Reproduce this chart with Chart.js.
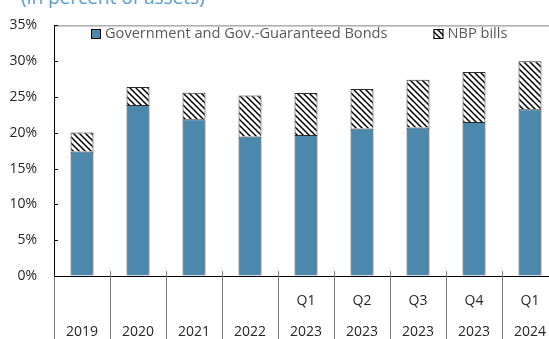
<!DOCTYPE html>
<html>
<head>
<meta charset="utf-8">
<script src="https://cdn.jsdelivr.net/npm/chart.js@4.4.1/dist/chart.umd.min.js"></script>
<style>
  html, body { margin: 0; padding: 0; background: #fff; overflow: hidden; width: 549px; height: 339px; }
  #title { position: absolute; left: 21px; top: -12px; font: 19px "Open Sans", sans-serif; line-height: 19px; color: #5b9bd5; white-space: nowrap; }
  #wrap { position: absolute; left: 0; top: 0; width: 558px; height: 339px; }
</style>
</head>
<body>
<div id="title">(in percent of assets)</div>
<div id="wrap"><canvas id="chart" width="558" height="339"></canvas></div>
<script>
// ======= Data =======
const periods = [["", "2019"], ["", "2020"], ["", "2021"], ["", "2022"], ["Q1", "2023"], ["Q2", "2023"], ["Q3", "2023"], ["Q4", "2023"], ["Q1", "2024"]];
const bonds = [17.4, 23.9, 21.9, 19.5, 19.7, 20.6, 20.75, 21.5, 23.3];
const nbpBills = [2.65, 2.5, 3.7, 5.7, 5.85, 5.5, 6.65, 7.0, 6.7];
const yTicks = [0, 5, 10, 15, 20, 25, 30, 35];

// ======= Hatch pattern =======
function makeHatch() {
  const c = document.createElement("canvas");
  c.width = 6; c.height = 6;
  const g = c.getContext("2d");
  g.fillStyle = "#fff";
  g.fillRect(0, 0, 6, 6);
  g.strokeStyle = "#000";
  g.lineWidth = 1.5;
  g.beginPath();
  g.moveTo(-1, -1); g.lineTo(7, 7);
  g.moveTo(-4, 2); g.lineTo(4, 10);
  g.moveTo(2, -4); g.lineTo(10, 4);
  g.stroke();
  return g.createPattern(c, "repeat");
}
const hatch = makeHatch();

// ======= Axis decorations + legend inside plot =======
const axisLines = {
  id: "axisLines",
  afterDraw(chart) {
    const ctx = chart.ctx;
    const a = chart.chartArea;
    const x = chart.scales.x, y = chart.scales.y;
    ctx.save();
    ctx.lineWidth = 1;
    // top frame line
    ctx.strokeStyle = "#808080";
    ctx.beginPath();
    ctx.moveTo(a.left, a.top + 0.5);
    ctx.lineTo(a.right, a.top + 0.5);
    ctx.stroke();
    // category separators below axis
    const w = x.width / periods.length;
    for (let i = 0; i <= periods.length; i++) {
      const px = Math.round(a.left + i * w) + 0.5;
      ctx.beginPath();
      ctx.moveTo(px, i === 0 ? a.bottom : a.bottom - 5);
      ctx.lineTo(px, chart.height);
      ctx.stroke();
    }
    // inward y ticks
    ctx.strokeStyle = "#000";
    yTicks.forEach(v => {
      const py = Math.round(y.getPixelForValue(v)) + 0.5;
      ctx.beginPath();
      ctx.moveTo(a.left, py);
      ctx.lineTo(a.left + 4, py);
      ctx.stroke();
    });

    // legend
    ctx.font = '14.6px "Open Sans"';
    ctx.textBaseline = "middle";
    let lx = 91;
    const ly = 34;
    chart.data.datasets.forEach(ds => {
      ctx.fillStyle = ds.backgroundColor;
      ctx.fillRect(lx, ly - 5, 10, 10);
      ctx.strokeStyle = "#000";
      ctx.strokeRect(lx + 0.5, ly - 4.5, 9, 9);
      ctx.fillStyle = "#595959";
      ctx.fillText(ds.label, lx + 14, ly);
      lx += 14 + ctx.measureText(ds.label).width + 46;
    });
    ctx.restore();
  }
};

// ======= Chart =======
const ctx = document.getElementById("chart").getContext("2d");
new Chart(ctx, {
  type: "bar",
  data: {
    labels: periods,
    datasets: [
      { label: "Government and Gov.-Guaranteed Bonds", data: bonds, backgroundColor: "#4b88ab", borderColor: "#2b2b2b", borderWidth: 1, barPercentage: 0.41, categoryPercentage: 1 },
      { label: "NBP bills", data: nbpBills, backgroundColor: hatch, borderColor: "#2b2b2b", borderWidth: 1, barPercentage: 0.41, categoryPercentage: 1 }
    ]
  },
  options: {
    responsive: false,
    animation: false,
    layout: { padding: { top: 23, right: 0, left: 0, bottom: 0 } },
    plugins: {
      legend: { display: false },
      tooltip: { enabled: false }
    },
    scales: {
      x: {
        stacked: true,
        afterFit: s => { s.height = 63; },
        grid: { display: false },
        border: { display: true, color: "#000", width: 1 },
        ticks: { color: "#262626", padding: 1, maxRotation: 0, autoSkip: false, font: { family: "Open Sans", size: 14, lineHeight: 2.25 } }
      },
      y: {
        stacked: true,
        min: 0, max: 35,
        afterFit: s => { s.width = 54; },
        afterBuildTicks: s => { s.ticks = yTicks.map(v => ({ value: v })); },
        grid: { drawOnChartArea: false, drawTicks: false },
        border: { display: true, color: "#000", width: 1 },
        ticks: { color: "#262626", padding: 17, callback: v => v + "%", font: { family: "Open Sans", size: 14 } }
      }
    }
  },
  plugins: [axisLines]
});
</script>
</body>
</html>
